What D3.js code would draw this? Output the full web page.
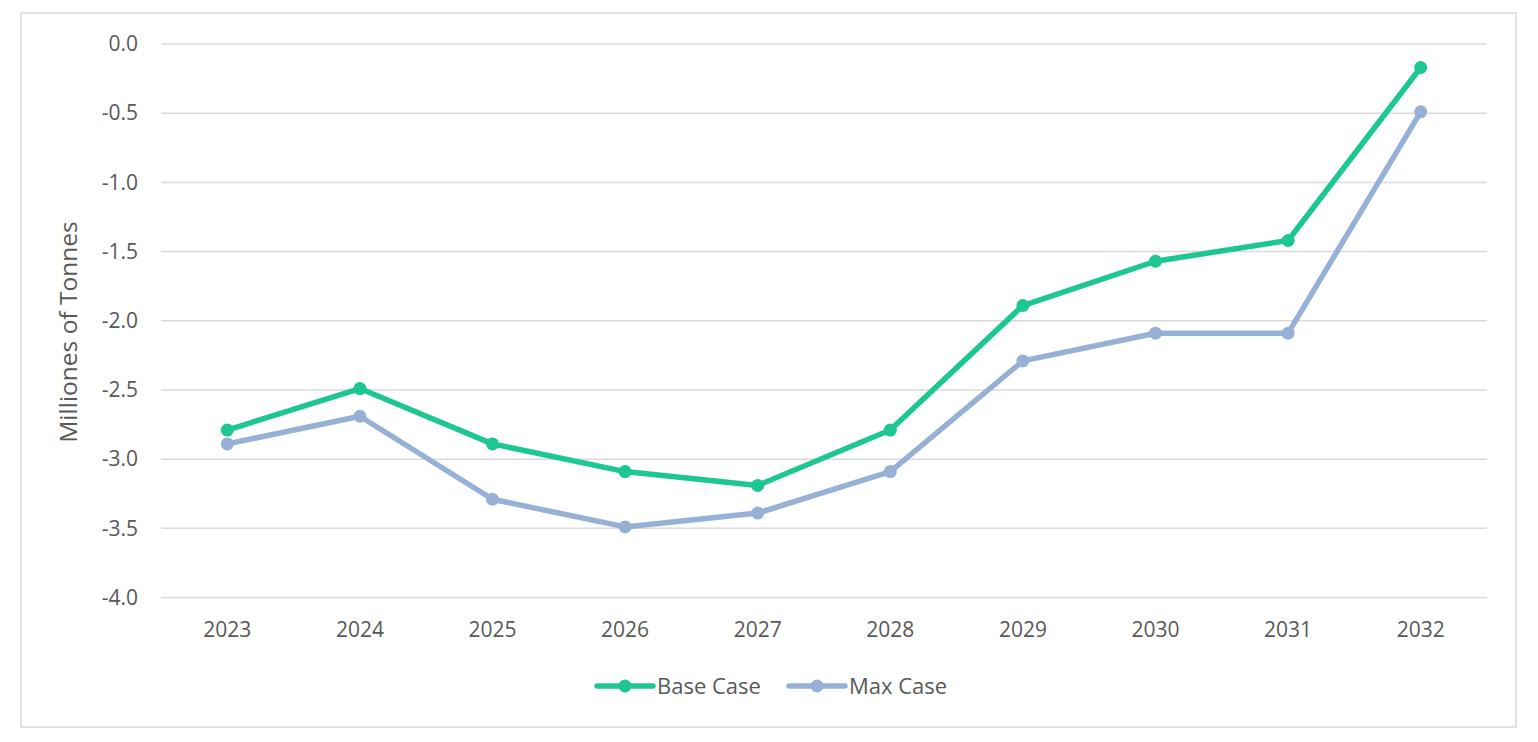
<!DOCTYPE html>
<html lang="en">
<head>
<meta charset="utf-8">
<title>Milliones of Tonnes</title>
<script src="https://d3js.org/d3.v7.min.js"></script>
<style>
  body { margin: 0; background: #fff; }
  svg { display: block; font-family: "Open Sans", "Noto Sans", sans-serif; }
  .grid line { stroke: #d9d9d9; stroke-width: 1.5; }
  .tick text { fill: #595959; font-size: 21px; font-family: "Open Sans", "Noto Sans", sans-serif; }
</style>
</head>
<body>
<script>
const years = ["2023", "2024", "2025", "2026", "2027", "2028", "2029", "2030", "2031", "2032"];
const baseCase = [-2.79, -2.49, -2.89, -3.09, -3.19, -2.79, -1.89, -1.57, -1.42, -0.17];
const maxCase = [-2.89, -2.69, -3.29, -3.49, -3.39, -3.09, -2.29, -2.09, -2.09, -0.49];
const yTicks = [0, -0.5, -1, -1.5, -2, -2.5, -3, -3.5, -4];

const W = 1538, H = 742;
const plotLeft = 161, plotRight = 1487, plotTop = 44, plotBottom = 597.5;

const svg = d3.select("body").append("svg")
  .attr("width", W).attr("height", H);

// outer chart frame
svg.append("rect")
  .attr("x", 21).attr("y", 13)
  .attr("width", 1495).attr("height", 714)
  .attr("fill", "#fff")
  .attr("stroke", "#d9d9d9").attr("stroke-width", 1.5);

const x = d3.scaleBand().domain(years).range([plotLeft, plotRight]);
const y = d3.scaleLinear().domain([-4, 0]).range([plotBottom, plotTop]);

// gridlines
svg.append("g").attr("class", "grid")
  .selectAll("line").data(yTicks).join("line")
  .attr("x1", plotLeft).attr("x2", plotRight)
  .attr("y1", d => y(d)).attr("y2", d => y(d));

// plain hyphen minus like the original, not the unicode one d3 uses
const fmt = d => d.toFixed(1);

const yAxis = svg.append("g")
  .attr("transform", `translate(${plotLeft},0)`)
  .call(d3.axisLeft(y).tickValues(yTicks).tickFormat(fmt).tickSize(0).tickPadding(23));
yAxis.select(".domain").remove();

const xAxis = svg.append("g")
  .attr("transform", `translate(0,${plotBottom})`)
  .call(d3.axisBottom(x).tickSize(0).tickPadding(25));
xAxis.select(".domain").remove();

svg.append("text")
  .attr("transform", `translate(77,332) rotate(-90)`)
  .attr("text-anchor", "middle")
  .attr("fill", "#595959")
  .attr("font-size", 24.5)
  .text("Milliones of Tonnes");

const series = [
  { name: "Base Case", values: baseCase, color: "#1cc791" },
  { name: "Max Case", values: maxCase, color: "#96b1d5" }
];

const line = d3.line()
  .x((d, i) => x(years[i]) + x.bandwidth() / 2)
  .y(d => y(d));

// draw Max first so Base sits on top
[...series].reverse().forEach(s => {
  svg.append("path")
    .datum(s.values)
    .attr("fill", "none")
    .attr("stroke", s.color)
    .attr("stroke-width", 5.5)
    .attr("stroke-linejoin", "round")
    .attr("d", line);
  svg.append("g").selectAll("circle").data(s.values).join("circle")
    .attr("cx", (d, i) => x(years[i]) + x.bandwidth() / 2)
    .attr("cy", d => y(d))
    .attr("r", 6.5)
    .attr("fill", s.color);
});

// legend
const legendX = [597, 789];
const legend = svg.append("g");
series.forEach((s, i) => {
  const g = legend.append("g").attr("transform", `translate(${legendX[i]},686)`);
  g.append("line")
    .attr("x1", 0).attr("x2", 56)
    .attr("stroke", s.color).attr("stroke-width", 5.5).attr("stroke-linecap", "round");
  g.append("circle").attr("cx", 28).attr("r", 6.5).attr("fill", s.color);
  g.append("text")
    .attr("x", 60).attr("dy", "0.35em")
    .attr("fill", "#595959").attr("font-size", 22)
    .text(s.name);
});
</script>
</body>
</html>
